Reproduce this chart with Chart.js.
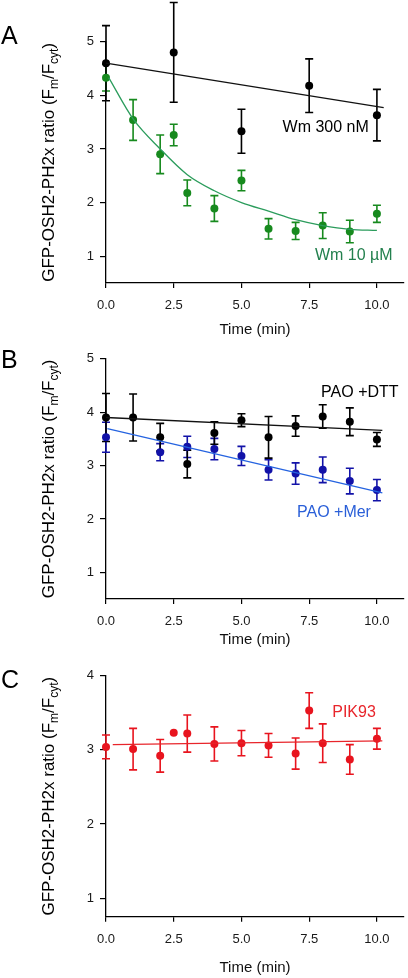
<!DOCTYPE html>
<html>
<head>
<meta charset="utf-8">
<script src="https://cdn.jsdelivr.net/npm/chart.js@4.4.1/dist/chart.umd.min.js"></script>
<style>
  body { margin: 0; background: #fff; width: 408px; height: 978px; position: relative; overflow: hidden; }
  canvas { position: absolute; left: 0; }
</style>
</head>
<body>
<canvas id="chartA" width="408" height="345" style="top:0px"></canvas>
<canvas id="chartB" width="408" height="310" style="top:345px"></canvas>
<canvas id="chartC" width="408" height="323" style="top:655px"></canvas>
<script>
// Panel A - wortmannin
const timeWm300 = [0, 2.5, 5, 7.5, 10];
const wm300 = [4.60, 4.80, 3.33, 4.18, 3.63];
const wm300Err = [0.70, 0.93, 0.41, 0.50, 0.48];
const fitWm300X = [0, 10.25];
const fitWm300Y = [4.60, 3.77];

const timeWm10 = [0, 1, 2, 2.5, 3, 4, 5, 6, 7, 8, 9, 10];
const wm10 = [4.33, 3.54, 2.90, 3.26, 2.18, 1.89, 2.41, 1.51, 1.47, 1.57, 1.46, 1.79];
const wm10Err = [0.25, 0.38, 0.36, 0.20, 0.24, 0.24, 0.19, 0.19, 0.16, 0.24, 0.21, 0.16];
const fitWm10X = [0.1, 1, 2, 3, 4, 5, 6, 7, 8, 9, 10];
const fitWm10Y = [4.33, 3.56, 3.00, 2.52, 2.22, 2.00, 1.84, 1.68, 1.57, 1.50, 1.48];

// Panel B - PAO
const timeDtt = [0, 1, 2, 3, 4, 5, 6, 7, 8, 9, 10];
const paoDtt = [3.90, 3.90, 3.53, 3.03, 3.61, 3.85, 3.53, 3.74, 3.92, 3.82, 3.49];
const paoDttErr = [0.45, 0.44, 0.26, 0.26, 0.21, 0.12, 0.39, 0.19, 0.22, 0.26, 0.13];
const fitDttX = [0, 10.2];
const fitDttY = [3.90, 3.66];

const timeMer = [0, 2, 3, 4, 5, 6, 7, 8, 9, 10];
const paoMer = [3.53, 3.25, 3.35, 3.31, 3.18, 2.92, 2.85, 2.92, 2.71, 2.54];
const paoMerErr = [0.28, 0.16, 0.20, 0.20, 0.18, 0.19, 0.20, 0.24, 0.24, 0.20];
const fitMerX = [0.05, 10.2];
const fitMerY = [3.69, 2.49];

// Panel C - PIK93
const timePik = [0, 1, 2, 2.5, 3, 4, 5, 6, 7, 7.5, 8, 9, 10];
const pik93 = [3.04, 3.01, 2.92, 3.23, 3.22, 3.08, 3.09, 3.06, 2.95, 3.53, 3.09, 2.87, 3.15];
const pik93Err = [0.16, 0.28, 0.22, 0, 0.25, 0.23, 0.17, 0.16, 0.21, 0.24, 0.26, 0.20, 0.14];
const fitPikX = [0.25, 10.2];
const fitPikY = [3.07, 3.12];

const xTicks = [0, 2.5, 5, 7.5, 10];
const yTicksAB = [1, 2, 3, 4, 5];
const yTicksC = [1, 2, 3, 4];

const FONT = '"Liberation Sans", Arial, Helvetica, sans-serif';
Chart.defaults.font.family = FONT;
Chart.defaults.color = '#111';

const toPts = (xs, ys) => xs.map((v, i) => ({x: v, y: ys[i]}));

// error bars drawn under the points
const errorBars = {
  id: 'errorBars',
  beforeDatasetsDraw(chart) {
    const {ctx, scales: {x, y}} = chart;
    chart.data.datasets.forEach(ds => {
      if (!ds.err) return;
      ctx.save();
      ctx.strokeStyle = ds.backgroundColor;
      ctx.lineWidth = 1.6;
      ds.data.forEach((p, i) => {
        const e = ds.err[i];
        if (!e) return;
        const px = x.getPixelForValue(p.x);
        const top = y.getPixelForValue(p.y + e);
        const bot = y.getPixelForValue(p.y - e);
        ctx.beginPath();
        ctx.moveTo(px, top); ctx.lineTo(px, bot);
        ctx.moveTo(px - 4, top); ctx.lineTo(px + 4, top);
        ctx.moveTo(px - 4, bot); ctx.lineTo(px + 4, bot);
        ctx.stroke();
      });
      ctx.restore();
    });
  }
};

// panel letter, series labels and the y title with subscripts
const panelText = {
  id: 'panelText',
  afterDraw(chart, args, opts) {
    const {ctx, chartArea, scales: {x, y}} = chart;
    ctx.save();
    ctx.fillStyle = '#000';
    ctx.font = '25px ' + FONT;
    ctx.textAlign = 'left';
    ctx.textBaseline = 'middle';
    ctx.fillText(opts.letter, 1, opts.letterY);

    ctx.font = '16px ' + FONT;
    ctx.textAlign = 'right';
    opts.labels.forEach(l => {
      ctx.fillStyle = l.color;
      ctx.fillText(l.text, x.getPixelForValue(l.x), y.getPixelForValue(l.y));
    });

    const parts = [['GFP-OSH2-PH2x ratio (F', 0], ['m', 1], ['/F', 0], ['cyt', 1], [')', 0]];
    const big = '17px ' + FONT, small = '12px ' + FONT;
    let total = 0;
    parts.forEach(p => { ctx.font = p[1] ? small : big; total += ctx.measureText(p[0]).width; });
    ctx.translate(53.5, (chartArea.top + chartArea.bottom) / 2);
    ctx.rotate(-Math.PI / 2);
    ctx.fillStyle = '#000';
    ctx.textAlign = 'left';
    ctx.textBaseline = 'alphabetic';
    let cx = -total / 2;
    parts.forEach(p => {
      ctx.font = p[1] ? small : big;
      ctx.fillText(p[0], cx, p[1] ? 4 : 0);
      cx += ctx.measureText(p[0]).width;
    });
    ctx.restore();
  }
};

function scatterSet(xs, ys, err, color) {
  return {
    type: 'scatter', data: toPts(xs, ys), err: err,
    backgroundColor: color, borderColor: color,
    pointRadius: 4, pointHoverRadius: 4, borderWidth: 0, clip: false
  };
}

function fitSet(xs, ys, color, smooth) {
  return {
    type: 'line', data: toPts(xs, ys), borderColor: color, borderWidth: 1.3,
    pointRadius: 0, fill: false, clip: false,
    cubicInterpolationMode: smooth ? 'monotone' : 'default'
  };
}

function makeChart(id, datasets, cfg) {
  return new Chart(document.getElementById(id), {
    type: 'scatter',
    data: {datasets: datasets},
    plugins: [errorBars, panelText],
    options: {
      responsive: false,
      animation: false,
      events: [],
      layout: {padding: {top: cfg.top, left: 0, right: 0, bottom: 0}},
      plugins: {
        legend: {display: false},
        tooltip: {enabled: false},
        panelText: {letter: cfg.letter, letterY: cfg.letterY, labels: cfg.labels}
      },
      scales: {
        x: {
          type: 'linear', min: 0, max: 11,
          afterBuildTicks: s => { s.ticks = xTicks.map(v => ({value: v})); },
          afterFit: s => { s.height = cfg.xHeight; },
          ticks: {font: {size: 13}, color: '#1a1a1a', padding: 10, callback: v => v.toFixed(1)},
          grid: {drawOnChartArea: false, color: '#000', tickLength: 5, lineWidth: 1.2},
          border: {display: true, color: '#000', width: 1.3},
          title: {display: true, text: 'Time (min)', font: {size: 15}, color: '#111',
                  padding: {top: 0, bottom: cfg.titlePad}}
        },
        y: {
          type: 'linear', min: cfg.ymin, max: cfg.ymax,
          afterBuildTicks: s => { s.ticks = cfg.yTicks.map(v => ({value: v})); },
          afterFit: s => { s.width = 106; },
          ticks: {font: {size: 13}, color: '#1a1a1a', padding: 6},
          grid: {drawOnChartArea: false, color: '#000', tickLength: 6, lineWidth: 1.2},
          border: {display: true, color: '#000', width: 1.3}
        }
      }
    }
  });
}

makeChart('chartA', [
  fitSet(fitWm10X, fitWm10Y, '#2b9c5c', true),
  fitSet(fitWm300X, fitWm300Y, '#111', false),
  scatterSet(timeWm10, wm10, wm10Err, '#178a1e'),
  scatterSet(timeWm300, wm300, wm300Err, '#000')
], {
  top: 41.7, xHeight: 62, titlePad: 6, ymin: 0.5, ymax: 5, yTicks: yTicksAB,
  letter: 'A', letterY: 37,
  labels: [
    {text: 'Wm 300 nM', x: 9.7, y: 3.39, color: '#000'},
    {text: 'Wm 10 µM', x: 10.58, y: 1.01, color: '#23804e'}
  ]
});

makeChart('chartB', [
  fitSet(fitMerX, fitMerY, '#2563e0', false),
  fitSet(fitDttX, fitDttY, '#111', false),
  scatterSet(timeMer, paoMer, paoMerErr, '#1212a8'),
  scatterSet(timeDtt, paoDtt, paoDttErr, '#000')
], {
  top: 13.3, xHeight: 56, titlePad: 6, ymin: 0.5, ymax: 5, yTicks: yTicksAB,
  letter: 'B', letterY: 16,
  labels: [
    {text: 'PAO +DTT', x: 10.8, y: 4.37, color: '#000'},
    {text: 'PAO +Mer', x: 9.78, y: 2.11, color: '#2a5fd8'}
  ]
});

makeChart('chartC', [
  fitSet(fitPikX, fitPikY, '#e8252b', false),
  scatterSet(timePik, pik93, pik93Err, '#e8141e')
], {
  top: 20.7, xHeight: 61.3, titlePad: 1, ymin: 0.75, ymax: 4, yTicks: yTicksC,
  letter: 'C', letterY: 26,
  labels: [
    {text: 'PIK93', x: 9.96, y: 3.50, color: '#e8252b'}
  ]
});
</script>
</body>
</html>
